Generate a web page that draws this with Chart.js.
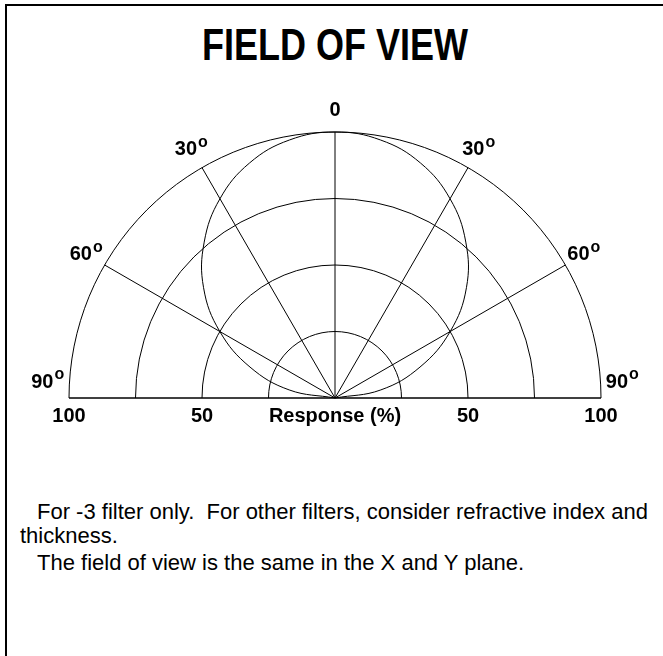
<!DOCTYPE html>
<html>
<head>
<meta charset="utf-8">
<title>Field of view</title>
<script src="https://cdn.jsdelivr.net/npm/chart.js@4.4.1/dist/chart.umd.min.js"></script>
<style>
    body { margin: 0; background: #fff; }
    #page { position: relative; width: 663px; height: 656px; overflow: hidden; font-family: "Liberation Sans", Arial, sans-serif; color: #000; }
    #frame { position: absolute; left: 5px; top: 4px; width: 800px; height: 800px; border-left: 2px solid #000; border-top: 2px solid #000; }
    #title { position: absolute; left: 0; width: 670px; top: 19px; text-align: center; font-size: 36px; font-weight: bold; transform: scaleY(1.25); transform-origin: 50% 0; }
    #chart { position: absolute; left: 0; top: 0; }
    .note { position: absolute; left: 20px; font-size: 22px; line-height: 24px; white-space: pre; text-indent: 17px; }
</style>
</head>
<body>
<div id="page">
    <div id="frame"></div>
    <div id="title">FIELD OF VIEW</div>
    <canvas id="chart" width="663" height="440"></canvas>
    <div class="note" style="top: 500px;">For -3 filter only.  For other filters, consider refractive index and
thickness.</div>
    <div class="note" style="top: 551px;">The field of view is the same in the X and Y plane.</div>
</div>

<script>
// data (angle in degrees, response in %)
const angleDeg = [-90, -80, -70, -60, -50, -40, -30, -20, -10, 0, 10, 20, 30, 40, 50, 60, 70, 80, 90];
const responsePct = [0, 17.5, 34, 50, 64.5, 76.5, 86.5, 94, 98.5, 100, 98.5, 94, 86.5, 76.5, 64.5, 50, 34, 17.5, 0];

// polar grid
const ringValues = [25, 50, 75, 100];
const spokeAngles = [-90, -60, -30, 0, 30, 60, 90];
const spokeLabels = ["90", "60", "30", "0", "30", "60", "90"];
const xTickValues = [-100, -50, 0, 50, 100];
const axisTitle = "Response (%)";

const curvePoints = angleDeg.map((a, i) => {
    const rad = a * Math.PI / 180;
    return { x: responsePct[i] * Math.sin(rad), y: responsePct[i] * Math.cos(rad) };
});

const labelFont = "bold 20px 'Liberation Sans', Arial, sans-serif";
const degFont = "bold 16px 'Liberation Sans', Arial, sans-serif";

const polarGrid = {
    id: "polarGrid",
    beforeDatasetsDraw(chart) {
        const ctx = chart.ctx;
        const xs = chart.scales.x;
        const ys = chart.scales.y;
        const cx = xs.getPixelForValue(0);
        const cy = ys.getPixelForValue(0);
        ctx.save();
        ctx.strokeStyle = "#000";
        ctx.lineWidth = 1;
        ringValues.forEach(r => {
            const rp = xs.getPixelForValue(r) - cx;
            ctx.beginPath();
            ctx.arc(cx, cy, rp, Math.PI, 2 * Math.PI);
            ctx.stroke();
        });
        const outer = Math.max(...ringValues);
        ctx.beginPath();
        ctx.moveTo(xs.getPixelForValue(-outer), cy);
        ctx.lineTo(xs.getPixelForValue(outer), cy);
        ctx.stroke();
        spokeAngles.forEach(a => {
            const rad = a * Math.PI / 180;
            ctx.beginPath();
            ctx.moveTo(cx, cy);
            ctx.lineTo(xs.getPixelForValue(outer * Math.sin(rad)), ys.getPixelForValue(outer * Math.cos(rad)));
            ctx.stroke();
        });
        ctx.restore();
    },
    afterDraw(chart) {
        const ctx = chart.ctx;
        const xs = chart.scales.x;
        const ys = chart.scales.y;
        const labelR = 108;
        ctx.save();
        ctx.fillStyle = "#000";
        ctx.textBaseline = "middle";
        ctx.textAlign = "left";
        spokeAngles.forEach((a, i) => {
            const rad = a * Math.PI / 180;
            const px = xs.getPixelForValue(labelR * Math.sin(rad));
            let py = ys.getPixelForValue(labelR * Math.cos(rad));
            if (Math.abs(a) === 90) py -= 16;
            const txt = spokeLabels[i];
            ctx.font = labelFont;
            const w1 = ctx.measureText(txt).width;
            let w2 = 0;
            if (a !== 0) {
                ctx.font = degFont;
                w2 = ctx.measureText("o").width + 1;
            }
            const x0 = px - (w1 + w2) / 2;
            ctx.font = labelFont;
            ctx.fillText(txt, x0, py);
            if (a !== 0) {
                ctx.font = degFont;
                ctx.fillText("o", x0 + w1 + 1, py - 7);
            }
        });
        ctx.restore();
    }
};

const ctx = document.getElementById("chart").getContext("2d");
new Chart(ctx, {
    type: "scatter",
    data: {
        datasets: [{
            data: curvePoints,
            showLine: true,
            borderColor: "#000",
            borderWidth: 1,
            pointRadius: 0,
            tension: 0.4,
            fill: false,
            clip: false
        }]
    },
    options: {
        responsive: false,
        animation: false,
        events: [],
        layout: { padding: { left: 69, right: 62, top: 132, bottom: 12 } },
        plugins: { legend: { display: false }, tooltip: { enabled: false } },
        scales: {
            x: {
                type: "linear",
                min: -100,
                max: 100,
                border: { display: false },
                grid: { display: false, drawTicks: false },
                afterFit(scale) { scale.height = 30; },
                afterBuildTicks(scale) { scale.ticks = xTickValues.map(v => ({ value: v })); },
                ticks: {
                    padding: 6,
                    color: "#000",
                    maxRotation: 0,
                    autoSkip: false,
                    font: { family: "'Liberation Sans', Arial, sans-serif", size: 20, weight: "bold" },
                    callback: v => (v === 0 ? axisTitle : Math.abs(v))
                }
            },
            y: {
                type: "linear",
                display: false,
                min: 0,
                max: 100
            }
        }
    },
    plugins: [polarGrid]
});
</script>
</body>
</html>
